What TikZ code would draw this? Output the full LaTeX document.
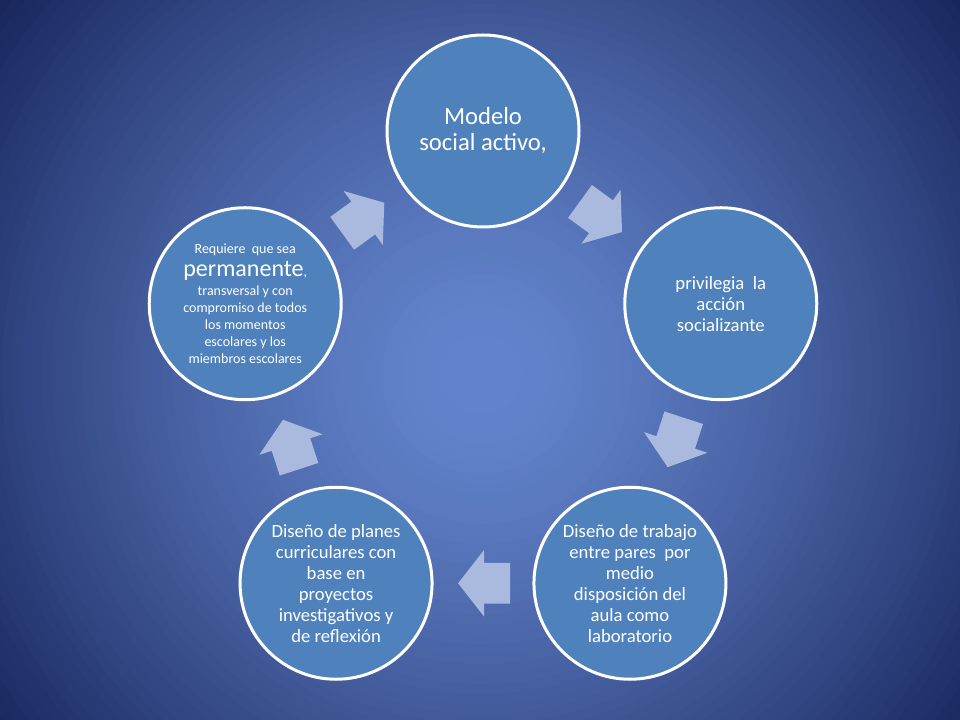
\documentclass[tikz,border=0pt]{standalone}
\usepackage{fontspec}
\setmainfont{Carlito}
\usepackage{tikz}
\usetikzlibrary{shapes.arrows,calc}
\definecolor{slidecenter}{RGB}{98, 131, 203}
\definecolor{slideedge}{RGB}{24, 38, 92}
\definecolor{cyclefill}{RGB}{79, 129, 189}
\definecolor{cyclearrow}{RGB}{170, 186, 222}
\tikzset{
    stage/.style={circle, draw=white, line width=2.25pt, fill=cyclefill, text=white,
                  minimum size=144pt, inner sep=0pt, align=center, font=\fontsize{14}{15.75}\selectfont},
    turn/.style={single arrow, fill=cyclearrow, inner xsep=0pt, inner ysep=15pt,
                 single arrow head extend=9.75pt, single arrow tip angle=104,
                 minimum height=39pt, minimum width=49.5pt, rotate=#1, xshift=-6.75pt}
}
\begin{document}
\begin{tikzpicture}[x=0.75pt, y=0.75pt]
    \useasboundingbox (0,0) rectangle (960,720);
    \clip (0,0) rectangle (960,720);
    \fill[slideedge] (0,0) rectangle (960,720);
    \foreach \r in {610,600,...,30} {
        \pgfmathtruncatemacro{\glow}{min(100,100*((\r-30)/580)^1.35)}
        \fill[slideedge!\glow!slidecenter] (482,346) circle (\r);
    }
    \begin{scope}[shift={(483,339)}]
        \node[stage, font=\fontsize{18.5}{19.5}\selectfont] (modelo) at (  90:250) {Modelo\\social activo,};
        \node[stage]                                         (accion) at (  18:250) {privilegia\ \ la\\acción\\socializante};
        \node[stage]                                         (pares)  at ( -54:250) {Diseño de trabajo\\entre pares\ \ por\\medio\\disposición del\\aula como\\laboratorio};
        \node[stage]                                         (planes) at (-126:250) {Diseño de planes\\curriculares con\\base en\\proyectos\\investigativos y\\de reflexión};
        \node[stage, font=\fontsize{10.5}{12.75}\selectfont] (permanente) at (162:250)
             {Requiere\ \ que sea\\[3pt]{\fontsize{18}{19}\selectfont permanente},\\[1pt]transversal y con\\compromiso de todos\\los momentos\\escolares y los\\miembros escolares};
    \end{scope}
    \node[turn= -36] (paso1) at ($(modelo)!0.5!(accion)$)     {};
    \node[turn=-108] (paso2) at ($(accion)!0.5!(pares)$)      {};
    \node[turn= 180] (paso3) at ($(pares)!0.5!(planes)$)      {};
    \node[turn= 108] (paso4) at ($(planes)!0.5!(permanente)$) {};
    \node[turn=  36] (paso5) at ($(permanente)!0.5!(modelo)$) {};
\end{tikzpicture}
\end{document}
